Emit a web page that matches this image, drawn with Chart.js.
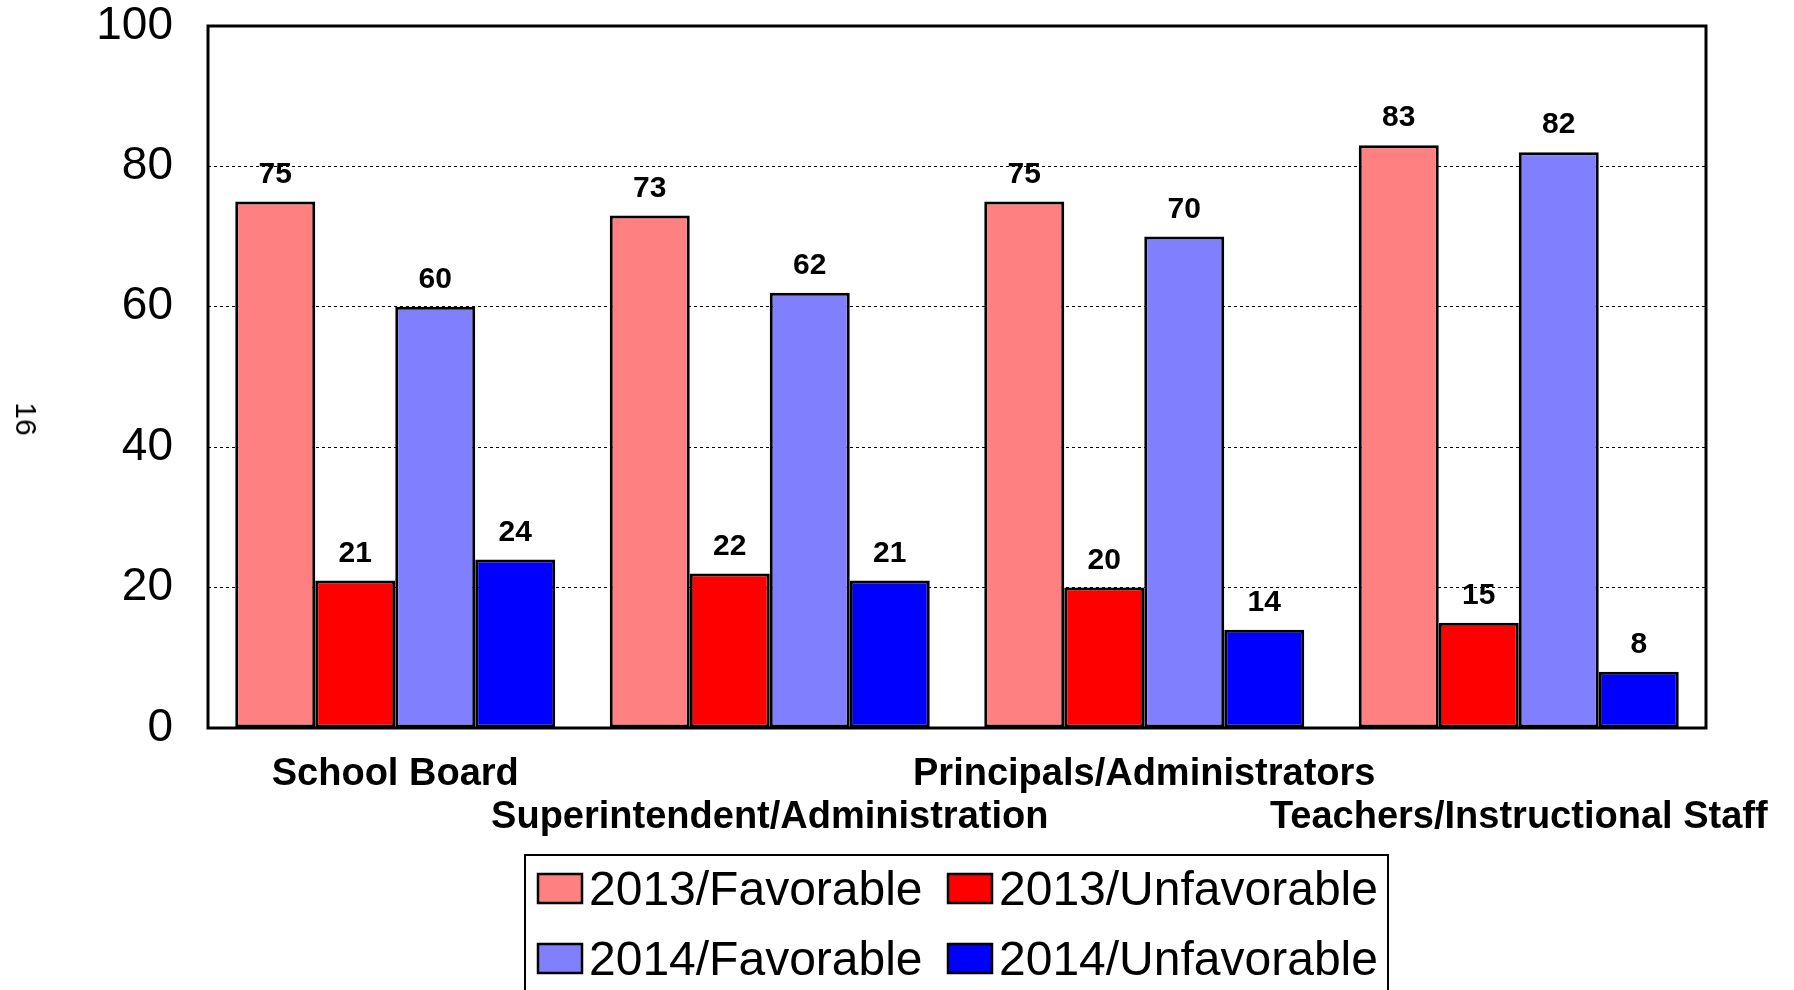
<!DOCTYPE html>
<html>
<head>
<meta charset="utf-8">
<script src="https://cdn.jsdelivr.net/npm/chart.js@4"></script>
<style>
  html, body { margin:0; padding:0; background:#fff; }
  #wrap { position:relative; width:1794px; height:990px; }
  #pageNo { position:absolute; left:26px; top:419px; font:30px "Liberation Sans", Arial, sans-serif; color:#000;
            transform:translate(-50%,-50%) rotate(90deg); white-space:nowrap; }
</style>
</head>
<body>
<div id="wrap">
  <canvas id="chart" width="1794" height="990"></canvas>
  <div id="pageNo">16</div>
</div>
<script>
// Chart data
const categories = [['School Board', ''], ['', 'Superintendent/Administration'], ['Principals/Administrators', ''], ['', 'Teachers/Instructional Staff']];
const fav2013 = [75, 73, 75, 83];
const unfav2013 = [21, 22, 20, 15];
const fav2014 = [60, 62, 70, 82];
const unfav2014 = [24, 21, 14, 8];
const seriesNames = ['2013/Favorable', '2013/Unfavorable', '2014/Favorable', '2014/Unfavorable'];
const seriesColors = ['#FF8080', '#FF0000', '#8080FF', '#0000FF'];

const FONT = '"Liberation Sans", Arial, sans-serif';

const mkDs = (i, data) => ({label:seriesNames[i], data, backgroundColor:seriesColors[i], borderColor:'#000', borderWidth:3, borderSkipped:false});

// value labels above bars
const valueLabels = {
    id: 'valueLabels',
    afterDatasetsDraw(chart) {
        const ctx = chart.ctx;
        ctx.save();
        ctx.font = 'bold 30px ' + FONT;
        ctx.fillStyle = '#000';
        ctx.textAlign = 'center';
        ctx.textBaseline = 'alphabetic';
        chart.data.datasets.forEach((ds, i) => {
            chart.getDatasetMeta(i).data.forEach((bar, j) => {
                ctx.fillText(ds.data[j], bar.x, bar.y - 19);
            });
        });
        ctx.restore();
    }
};

// plot frame + boxed legend
const frameLegend = {
    id: 'frameLegend',
    afterDraw(chart) {
        const ctx = chart.ctx, a = chart.chartArea;
        ctx.save();
        ctx.strokeStyle = '#000';
        ctx.lineWidth = 3;
        ctx.strokeRect(a.left, a.top, a.right - a.left, a.bottom - a.top);

        // legend box (runs off the bottom edge like the original)
        ctx.lineWidth = 2;
        ctx.strokeRect(525, 855, 863, 160);
        const cols = [538, 948], rows = [874, 944];
        ctx.font = '48px ' + FONT;
        ctx.textAlign = 'left';
        ctx.textBaseline = 'alphabetic';
        chart.data.datasets.forEach((ds, i) => {
            const x = cols[i % 2], y = rows[Math.floor(i / 2)];
            ctx.fillStyle = ds.backgroundColor;
            ctx.fillRect(x, y, 44, 29);
            ctx.lineWidth = 2.5;
            ctx.strokeRect(x, y, 44, 29);
            ctx.fillStyle = '#000';
            ctx.fillText(ds.label, x + 51, y + 31);
        });
        ctx.restore();
    }
};

new Chart(document.getElementById('chart'), {
    type: 'bar',
    data: {
        labels: categories,
        datasets: [mkDs(0, fav2013), mkDs(1, unfav2013), mkDs(2, fav2014), mkDs(3, unfav2014)]
    },
    options: {
        responsive: false,
        devicePixelRatio: 1,
        animation: false,
        categoryPercentage: 0.8545,
        barPercentage: 1.0,
        layout: {padding: {left: 0, top: 26, right: 88, bottom: 0}},
        plugins: {legend: {display: false}, tooltip: {enabled: false}},
        scales: {
            x: {
                grid: {display: false, drawTicks: false},
                border: {display: false},
                ticks: {color: '#000', padding: 25, maxRotation: 0, autoSkip: false,
                        font: {family: FONT, size: 38, weight: 'bold', lineHeight: 1.132}},
                afterFit: s => { s.height = 262; s.paddingLeft = 0; s.paddingRight = 0; }
            },
            y: {
                min: 0, max: 100,
                grid: {color: '#000', lineWidth: 1, drawTicks: false},
                border: {display: false, dash: [3, 3]},
                ticks: {stepSize: 20, color: '#000', padding: 35,
                        font: {family: FONT, size: 46, lineHeight: 1}},
                afterFit: s => { s.width = 208; s.paddingTop = 0; s.paddingBottom = 0; }
            }
        }
    },
    plugins: [valueLabels, frameLegend]
});
</script>
</body>
</html>
